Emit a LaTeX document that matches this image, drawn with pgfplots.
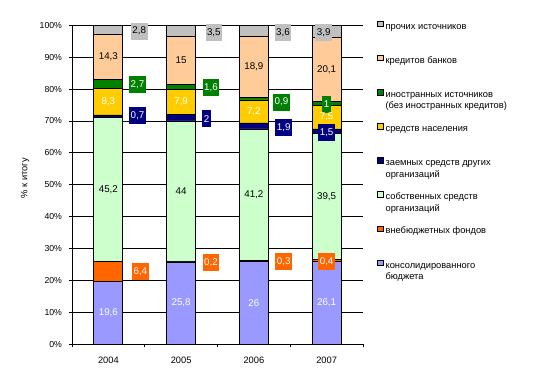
\documentclass[border=0pt]{standalone}
\usepackage{pgfplots}
\pgfplotsset{compat=1.18}
\usepackage{fontspec}
\setmainfont{Liberation Sans}
\definecolor{cLav}{HTML}{9999FF}
\definecolor{cOra}{HTML}{FF6600}
\definecolor{cLgr}{HTML}{CCFFCC}
\definecolor{cNav}{HTML}{000080}
\definecolor{cGol}{HTML}{FFCC00}
\definecolor{cGrn}{HTML}{008000}
\definecolor{cPea}{HTML}{FFCC99}
\definecolor{cGry}{HTML}{C0C0C0}
\newcommand{\fs}{\fontsize{8.7}{10}\selectfont}
\newcommand{\fx}{\fontsize{9.3}{10}\selectfont}
\newcommand{\fl}{\fontsize{9.3}{10}\selectfont}
\newcommand{\fd}{\fontsize{9.8}{10}\selectfont}
\newcommand{\twoline}[2]{\makebox[0pt][l]{\raisebox{-11.5pt}[0pt][0pt]{#2}}#1\strut}
\begin{document}
\begin{tikzpicture}
\path (0,0) rectangle (542pt,378pt);
\begin{axis}[
  at={(72pt,33.7pt)}, anchor=south west,
  scale only axis, width=291pt, height=319pt,
  ybar stacked, bar width=29pt,
  xmin=-0.5, xmax=3.5, ymin=0, ymax=100,
  axis x line*=bottom, axis y line*=left,
  axis line style={-, line width=0.8pt},
  tick align=outside, major tick length=3pt, minor tick length=3pt,
  xtick={0,1,2,3}, xticklabels={2004,2005,2006,2007},
  minor xtick={-0.5,0.5,1.5,2.5,3.5},
  major x tick style={draw=none},
  every tick/.style={black, line width=0.8pt},
  ytick={0,10,...,100},
  yticklabels={0\%,10\%,20\%,30\%,40\%,50\%,60\%,70\%,80\%,90\%,100\%},
  ymajorgrids, grid style={black, line width=0.8pt},
  yticklabel style={font=\fs, xshift=-3.5pt},
  xticklabel style={font=\fx, yshift=-6.5pt},
  ylabel={\% к итогу},
  ylabel style={font=\fl, at={(axis description cs:-0.1615,0.521)}, anchor=center},
  reverse legend,
  legend cell align=left,
  legend style={draw=none, fill=none, inner sep=0pt, row sep=24.3pt, column sep=2.5pt,
     font=\fl, nodes={inner sep=0pt},
     at={(axis description cs:1.0471,1.015)}, anchor=north west},
  legend image code/.code={\draw[#1, draw=black, line width=0.6pt] (0pt,-0.3pt) rectangle (5.6pt,5.3pt);},
  every axis plot/.append style={draw=black, line width=0.8pt},
]
\addplot[fill=cLav] coordinates {(0,19.6) (1,25.8) (2,26) (3,26.1)};
\addlegendentry{\twoline{консолидированного}{бюджета}}
\addplot[fill=cOra] coordinates {(0,6.4) (1,0.2) (2,0.3) (3,0.4)};
\addlegendentry{внебюджетных фондов\strut}
\addplot[fill=cLgr] coordinates {(0,45.2) (1,44) (2,41.2) (3,39.5)};
\addlegendentry{\twoline{собственных средств}{организаций}}
\addplot[fill=cNav] coordinates {(0,0.7) (1,2) (2,1.9) (3,1.5)};
\addlegendentry{\twoline{заемных средств других}{организаций}}
\addplot[fill=cGol] coordinates {(0,8.3) (1,7.9) (2,7.2) (3,7.5)};
\addlegendentry{средств населения\strut}
\addplot[fill=cGrn] coordinates {(0,2.7) (1,1.6) (2,0.9) (3,1)};
\addlegendentry{\twoline{иностранных источников}{(без иностранных кредитов)}}
\addplot[fill=cPea] coordinates {(0,14.3) (1,15) (2,18.9) (3,20.1)};
\addlegendentry{кредитов банков\strut}
\addplot[fill=cGry] coordinates {(0,2.8) (1,3.5) (2,3.6) (3,3.9)};
\addlegendentry{прочих источников\strut}
\end{axis}
\begin{axis}[
  at={(72pt,33.7pt)}, anchor=south west,
  scale only axis, width=291pt, height=319pt,
  xmin=-0.5, xmax=3.5, ymin=0, ymax=100,
  hide axis, clip=false,
  every axis plot/.append style={draw=none, mark=none, nodes near coords, point meta=explicit symbolic},
  lbl/.style={nodes near coords style={anchor=center, font=\fd, inner sep=0pt, text=#1}},
  box/.style={nodes near coords style={anchor=center, font=\fd, inner xsep=1.5pt, inner ysep=0pt, minimum height=17pt, fill=#1}},
]
% grey
\addplot[lbl=black, box=cGry] table[meta=l] {
x y l
0.425 98.2 2,8
1.45 97.7 3,5
2.40 97.7 3,6
2.96 97.6 3,9
};
% peach
\addplot[lbl=black] table[meta=l] {
x y l
0 90.05 14,3
1 89.0 15
2 86.95 18,9
3 86.05 20,1
};
% green
\addplot[lbl=white, box=cGrn] table[meta=l] {
x y l
0.40 81.3 2,7
1.41 80.4 1,6
2.38 75.9 0,9
3.0 75.3 1
};
% gold
\addplot[lbl=white] table[meta=l] {
x y l
0 76.05 8,3
1 75.95 7,9
2 73.0 7,2
3 71.3 7,5
};
% navy
\addplot[lbl=white, box=cNav] table[meta=l] {
x y l
0.40 71.6 0,7
1.35 70.7 2
2.41 68.0 1,9
3.0 66.4 1,5
};
% light green
\addplot[lbl=black] table[meta=l] {
x y l
0 48.6 45,2
1 48.0 44
2 46.9 41,2
3 46.25 39,5
};
% orange
\addplot[lbl=white, box=cOra] table[meta=l] {
x y l
0.44 22.7 6,4
1.41 25.5 0,2
2.41 26.0 0,3
3.0 25.9 0,4
};
% lavender
\addplot[lbl=white] table[meta=l] {
x y l
0 9.8 19,6
1 12.9 25,8
2 13.0 26
3 13.05 26,1
};
\end{axis}
\end{tikzpicture}
\end{document}
